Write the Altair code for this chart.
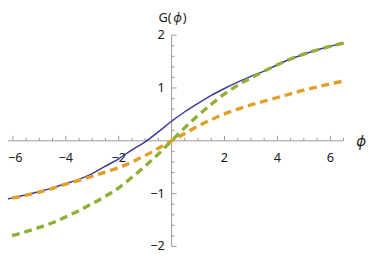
import altair as alt
import pandas as pd

# ---- data ----
phi = [-6.5, -6.0, -5.5, -5.0, -4.5, -4.0, -3.5, -3.0, -2.5, -2.0, -1.5, -1.0, -0.5,
       0.0, 0.5, 1.0, 1.5, 2.0, 2.5, 3.0, 3.5, 4.0, 4.5, 5.0, 5.5, 6.0, 6.5]
g_blue = [-1.12, -1.08, -1.02, -0.96, -0.89, -0.81, -0.73, -0.62, -0.48, -0.34, -0.17, -0.02, 0.17,
          0.37, 0.55, 0.71, 0.86, 0.99, 1.11, 1.22, 1.32, 1.44, 1.55, 1.64, 1.72, 1.79, 1.85]
g_orange = [-1.12, -1.08, -1.03, -0.97, -0.90, -0.82, -0.75, -0.67, -0.59, -0.51, -0.40, -0.28, -0.14,
            0.0, 0.14, 0.28, 0.40, 0.51, 0.60, 0.68, 0.75, 0.82, 0.89, 0.96, 1.02, 1.08, 1.13]
g_green = [-1.85, -1.79, -1.72, -1.64, -1.55, -1.44, -1.32, -1.19, -1.05, -0.89, -0.69, -0.48, -0.25,
           0.0, 0.25, 0.48, 0.69, 0.89, 1.05, 1.19, 1.32, 1.44, 1.55, 1.64, 1.72, 1.79, 1.85]

x_major = [-6, -4, -2, 2, 4, 6]
x_major_labels = ["\u22126", "\u22124", "\u22122", "2", "4", "6"]
x_minor = [-5.5, -5, -4.5, -3.5, -3, -2.5, -1.5, -1, -0.5, 0.5, 1, 1.5, 2.5, 3, 3.5, 4.5, 5, 5.5, 6.5]
y_major = [-2, -1, 1, 2]
y_major_labels = ["\u22122", "\u22121", "1", "2"]
y_minor = [-1.8, -1.6, -1.4, -1.2, -0.8, -0.6, -0.4, -0.2, 0.2, 0.4, 0.6, 0.8, 1.2, 1.4, 1.6, 1.8]

# ---- layout ----
W, H = 343, 249
FONT = "Noto Sans"
AX = "#9a9a9a"
TXT = "#1a1a1a"
xsc = alt.Scale(domain=[-6.185, 6.5], nice=False, zero=False)
ysc = alt.Scale(domain=[-2.148, 2.463], nice=False, zero=False)

def X(f):
    return alt.X(f, type="quantitative", scale=xsc, axis=None)

def Y(f):
    return alt.Y(f, type="quantitative", scale=ysc, axis=None)

df_b = pd.DataFrame({"phi": phi, "g": g_blue})
df_o = pd.DataFrame({"phi": phi, "g": g_orange})
df_g = pd.DataFrame({"phi": phi, "g": g_green})

blue = alt.Chart(df_b).mark_line(color="#3C3A98", strokeWidth=1.5, interpolate="monotone").encode(x=X("phi"), y=Y("g"))
orange = alt.Chart(df_o).mark_line(color="#E39E26", strokeWidth=3.4, strokeDash=[8, 5],
                                   interpolate="monotone").encode(x=X("phi"), y=Y("g"))
green = alt.Chart(df_g).mark_line(color="#8DB035", strokeWidth=3.4, strokeDash=[8, 5],
                                  interpolate="monotone").encode(x=X("phi"), y=Y("g"))

# axes lines
xaxis = alt.Chart(pd.DataFrame({"a": [-6.5], "b": [6.5], "y": [0]})).mark_rule(color=AX, strokeWidth=1).encode(
    x=X("a"), x2="b", y=Y("y"))
yaxis = alt.Chart(pd.DataFrame({"a": [-2], "b": [2], "x": [0]})).mark_rule(color=AX, strokeWidth=1).encode(
    y=Y("a"), y2="b", x=X("x"))

# ticks
xt = pd.DataFrame({"v": x_major + x_minor,
                   "y0": [0] * (len(x_major) + len(x_minor)),
                   "y1": [0.095] * len(x_major) + [0.055] * len(x_minor)})
xticks = alt.Chart(xt).mark_rule(color=AX, strokeWidth=1).encode(x=X("v"), y=Y("y0"), y2="y1")
yt = pd.DataFrame({"v": y_major + y_minor,
                   "x0": [0] * (len(y_major) + len(y_minor)),
                   "x1": [0.19] * len(y_major) + [0.11] * len(y_minor)})
yticks = alt.Chart(yt).mark_rule(color=AX, strokeWidth=1).encode(y=Y("v"), x=X("x0"), x2="x1")

# tick labels (the leftmost one is nudged so it stays inside the page)
xl = pd.DataFrame({"v": x_major, "t": x_major_labels, "y0": [0] * len(x_major)})
xlabels = alt.Chart(xl).transform_filter("datum.v > -6").mark_text(
    font=FONT, fontSize=13, color=TXT, baseline="middle", align="center", dy=18
).encode(x=X("v"), y=Y("y0"), text="t:N")
xlabel_first = alt.Chart(xl).transform_filter("datum.v == -6").mark_text(
    font=FONT, fontSize=13, color=TXT, baseline="middle", align="left", dx=-5, dy=18
).encode(x=X("v"), y=Y("y0"), text="t:N")
yl = pd.DataFrame({"v": y_major, "t": y_major_labels, "x0": [0] * len(y_major)})
ylabels = alt.Chart(yl).mark_text(font=FONT, fontSize=13, color=TXT, baseline="middle", align="right",
                                  dx=-7).encode(x=X("x0"), y=Y("v"), text="t:N")

# axis titles
tdf = pd.DataFrame({"x": [0], "y": [2.32], "xe": [6.5], "ye": [0]})
t1 = alt.Chart(tdf).mark_text(font=FONT, fontSize=13, color=TXT, baseline="middle", align="right",
                              dx=0).encode(x=X("x"), y=Y("y"), text=alt.value("G("))
t2 = alt.Chart(tdf).mark_text(font=FONT, fontSize=13, color=TXT, baseline="middle", align="center",
                              fontStyle="italic", dx=6).encode(x=X("x"), y=Y("y"), text=alt.value("\u03d5"))
t3 = alt.Chart(tdf).mark_text(font=FONT, fontSize=13, color=TXT, baseline="middle", align="left",
                              dx=11.5).encode(x=X("x"), y=Y("y"), text=alt.value(")"))
t4 = alt.Chart(tdf).mark_text(font=FONT, fontSize=15, color=TXT, baseline="middle", align="center",
                              fontStyle="italic", dx=18).encode(x=X("xe"), y=Y("ye"), text=alt.value("\u03d5"))

chart = alt.layer(xaxis, yaxis, xticks, yticks, blue, orange, green, xlabels, xlabel_first, ylabels,
                  t1, t2, t3, t4).properties(
    width=W, height=H,
    autosize=alt.AutoSizeParams(type="none"),
    padding={"left": 0, "top": 0, "right": 23, "bottom": 0},
).configure_view(stroke=None)

chart.save("out.html", embed_options={"renderer": "svg", "actions": False})
